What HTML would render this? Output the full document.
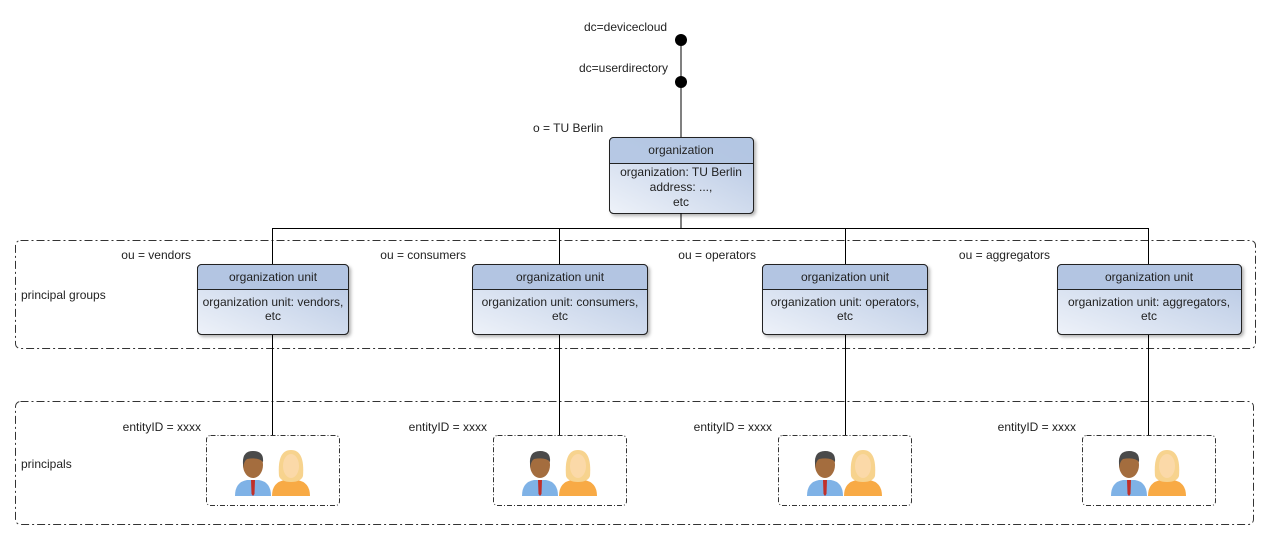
<!DOCTYPE html>
<html><head><meta charset="utf-8"><style>
html,body{margin:0;padding:0;background:#fff}
svg{display:block}
text{font-family:"Liberation Sans",sans-serif;font-size:12px;fill:#222}
</style></head><body>
<svg width="1271" height="540" viewBox="0 0 1271 540" xmlns="http://www.w3.org/2000/svg">
<defs>
<linearGradient id="bg" x1="0" y1="1" x2="1" y2="0">
<stop offset="0" stop-color="#eef2f9"/><stop offset="1" stop-color="#b3c5e2"/>
</linearGradient>
<filter id="sh" x="-10%" y="-10%" width="130%" height="130%"><feDropShadow dx="2" dy="2" stdDeviation="1.5" flood-color="#000" flood-opacity="0.3"/></filter>
<g id="ppl">
<path d="M0 50 Q0 36 12 34 L24 34 Q36 36 36 50 Z" fill="#7fb2e6"/>
<path d="M16 34 L20 34 L19.5 48 L18 50 L16.5 48 Z" fill="#c0302a"/>
<ellipse cx="18" cy="19" rx="10" ry="13" fill="#a46d3e"/>
<path d="M8 18 Q7 5 18 5 Q29 5 28 16 Q24 11 12 13 Q9 15 8 22 Z" fill="#4a4a4a"/>
<path d="M37 50 Q37 36 50 34 L62 34 Q75 36 75 50 Z" fill="#f8aa45"/>
<path d="M44 30 Q42 4 56 4 Q70 4 68 30 Q66 36 56 36 Q46 36 44 30 Z" fill="#f7d38e"/>
<ellipse cx="56" cy="20" rx="8" ry="12" fill="#fbd9a8"/>
</g>
</defs>

<rect x="15.5" y="240.5" width="1240" height="108" rx="5" fill="none" stroke="#333" stroke-dasharray="8,3,2,3"/>
<rect x="15.5" y="401.5" width="1238" height="123" rx="5" fill="none" stroke="#333" stroke-dasharray="8,3,2,3"/>
<text x="21" y="299">principal groups</text>
<text x="21" y="468">principals</text>

<line x1="681" y1="40" x2="681" y2="137" stroke="#000"/>
<circle cx="681" cy="40" r="6"/>
<circle cx="681" cy="82" r="6"/>
<text x="584" y="31">dc=devicecloud</text>
<text x="579" y="72">dc=userdirectory</text>
<text x="533" y="132">o = TU Berlin</text>

<g filter="url(#sh)">
<rect x="609.5" y="137.5" width="144" height="76" rx="4" fill="url(#bg)" stroke="#222"/>
</g>
<path d="M610 138 h143 v25 h-143 z" fill="#b3c5e2" opacity="0.9"/>
<rect x="609.5" y="137.5" width="144" height="76" rx="4" fill="none" stroke="#222"/>
<line x1="610" y1="163.5" x2="753" y2="163.5" stroke="#222"/>
<text x="681" y="154" text-anchor="middle">organization</text>
<text x="681" y="176" text-anchor="middle">organization: TU Berlin</text>
<text x="681" y="191" text-anchor="middle">address: ...,</text>
<text x="681" y="206" text-anchor="middle">etc</text>

<line x1="681" y1="213" x2="681" y2="228" stroke="#000"/>
<line x1="272" y1="228.5" x2="1148" y2="228.5" stroke="#000"/>
<g stroke="#000">
<line x1="272.5" y1="228" x2="272.5" y2="435"/>
<line x1="559.5" y1="228" x2="559.5" y2="435"/>
<line x1="845.5" y1="228" x2="845.5" y2="435"/>
<line x1="1148.5" y1="228" x2="1148.5" y2="435"/>
</g>

<g>
<g filter="url(#sh)"><rect x="197.5" y="264.5" width="151" height="70" rx="4" fill="url(#bg)" stroke="#222"/></g>
<path d="M198 265 h150 v24 h-150 z" fill="#b3c5e2"/>
<rect x="197.5" y="264.5" width="151" height="70" rx="4" fill="none" stroke="#222"/>
<line x1="198" y1="289.5" x2="348" y2="289.5" stroke="#222"/>
<text x="273" y="281" text-anchor="middle">organization unit</text>
<text x="273" y="306" text-anchor="middle">organization unit: vendors,</text>
<text x="273" y="320" text-anchor="middle">etc</text>
<text x="191" y="259" text-anchor="end">ou = vendors</text>
</g>
<g>
<g filter="url(#sh)"><rect x="472.5" y="264.5" width="175" height="70" rx="4" fill="url(#bg)" stroke="#222"/></g>
<path d="M473 265 h174 v24 h-174 z" fill="#b3c5e2"/>
<rect x="472.5" y="264.5" width="175" height="70" rx="4" fill="none" stroke="#222"/>
<line x1="473" y1="289.5" x2="647" y2="289.5" stroke="#222"/>
<text x="560" y="281" text-anchor="middle">organization unit</text>
<text x="560" y="306" text-anchor="middle">organization unit: consumers,</text>
<text x="560" y="320" text-anchor="middle">etc</text>
<text x="466" y="259" text-anchor="end">ou = consumers</text>
</g>
<g>
<g filter="url(#sh)"><rect x="762.5" y="264.5" width="165" height="70" rx="4" fill="url(#bg)" stroke="#222"/></g>
<path d="M763 265 h164 v24 h-164 z" fill="#b3c5e2"/>
<rect x="762.5" y="264.5" width="165" height="70" rx="4" fill="none" stroke="#222"/>
<line x1="763" y1="289.5" x2="927" y2="289.5" stroke="#222"/>
<text x="845" y="281" text-anchor="middle">organization unit</text>
<text x="845" y="306" text-anchor="middle">organization unit: operators,</text>
<text x="845" y="320" text-anchor="middle">etc</text>
<text x="756" y="259" text-anchor="end">ou = operators</text>
</g>
<g>
<g filter="url(#sh)"><rect x="1057.5" y="264.5" width="184" height="70" rx="4" fill="url(#bg)" stroke="#222"/></g>
<path d="M1058 265 h183 v24 h-183 z" fill="#b3c5e2"/>
<rect x="1057.5" y="264.5" width="184" height="70" rx="4" fill="none" stroke="#222"/>
<line x1="1058" y1="289.5" x2="1241" y2="289.5" stroke="#222"/>
<text x="1149" y="281" text-anchor="middle">organization unit</text>
<text x="1149" y="306" text-anchor="middle">organization unit: aggregators,</text>
<text x="1149" y="320" text-anchor="middle">etc</text>
<text x="1050" y="259" text-anchor="end">ou = aggregators</text>
</g>

<g fill="#fff" stroke="#333" stroke-dasharray="5,2,1,2">
<rect x="206.5" y="435.5" width="133" height="70" rx="4"/>
<rect x="493.5" y="435.5" width="133" height="70" rx="4"/>
<rect x="778.5" y="435.5" width="133" height="70" rx="4"/>
<rect x="1082.5" y="435.5" width="133" height="70" rx="4"/>
</g>
<use href="#ppl" x="235" y="446"/>
<use href="#ppl" x="522" y="446"/>
<use href="#ppl" x="807" y="446"/>
<use href="#ppl" x="1111" y="446"/>
<text x="201" y="431" text-anchor="end">entityID = xxxx</text>
<text x="487" y="431" text-anchor="end">entityID = xxxx</text>
<text x="772" y="431" text-anchor="end">entityID = xxxx</text>
<text x="1076" y="431" text-anchor="end">entityID = xxxx</text>
</svg>
</body></html>
